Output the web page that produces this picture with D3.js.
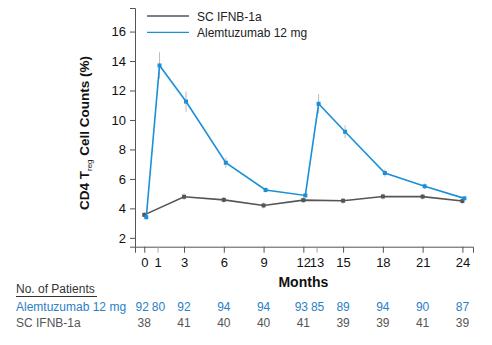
<!DOCTYPE html>
<html>
<head>
<meta charset="utf-8">
<script src="https://cdnjs.cloudflare.com/ajax/libs/d3/7.8.5/d3.min.js"></script>
<style>
  body { margin: 0; background: #fff; }
  text { font-family: Arial, "Liberation Sans", sans-serif; }
</style>
</head>
<body>
<div id="chart"></div>
<script>
// months and values
var months = [0, 1, 3, 6, 9, 12, 13, 15, 18, 21, 24];
var alemMonths = [0, 1, 3, 6, 9, 12, 13, 15, 18, 21, 24];
var alemValues = [3.4, 13.7, 11.25, 7.1, 5.25, 4.88, 11.1, 9.2, 6.4, 5.5, 4.68];
var alemErr = [0.15, 0.9, 0.68, 0.35, 0.18, 0.15, 0.66, 0.43, 0.25, 0.2, 0.15];
var ifnMonths = [0, 3, 6, 9, 12, 15, 18, 21, 24];
var ifnValues = [3.56, 4.79, 4.58, 4.2, 4.56, 4.52, 4.81, 4.8, 4.5];
var ifnErr = [0.2, 0.22, 0.2, 0.2, 0.2, 0.2, 0.2, 0.2, 0.2];
var alemN = [92, 80, 92, 94, 94, 93, 85, 89, 94, 90, 87];
var ifnN = [38, 41, 40, 40, 41, 39, 39, 41, 39];
var yTicks = [2, 4, 6, 8, 10, 12, 14, 16];

var W = 492, H = 345;
var blue = "#1b8fd8", gray = "#555", blueText = "#2a80c6";
var font = "Arial, 'Liberation Sans', sans-serif";

var svg = d3.select("#chart").append("svg").attr("width", W).attr("height", H);

var x = d3.scaleLinear().domain([-0.7, 24.8]).range([135, 473]);
var y = d3.scaleLinear().domain([1.4, 17.6]).range([246.7, 8]);

// axes
var xAxis = d3.axisBottom(x).tickValues(months).tickSizeOuter(0).tickSize(6).tickPadding(5);
var gx = svg.append("g").attr("transform", "translate(0," + y.range()[0] + ")").call(xAxis);
gx.select(".domain").attr("stroke", gray);
gx.selectAll(".tick line").attr("stroke", function (d) { return (d == 1 || d == 13) ? "#aaa" : gray; });
gx.selectAll(".tick text").attr("font-size", 13).attr("fill", "#111").attr("font-family", font);

var yAxis = d3.axisLeft(y).tickValues(yTicks).tickSizeOuter(0).tickSize(5).tickPadding(4);
var gy = svg.append("g").attr("transform", "translate(" + x.range()[0] + ",0)").call(yAxis);
gy.select(".domain").attr("stroke", gray);
gy.selectAll(".tick line").attr("stroke", gray);
gy.selectAll(".tick text").attr("font-size", 13).attr("fill", "#111").attr("font-family", font);

// y label
var yl = svg.append("text").attr("transform", "translate(88.5,133) rotate(-90)")
    .attr("text-anchor", "middle").attr("font-size", 13.5).attr("font-weight", "bold").attr("fill", "#111");
yl.append("tspan").text("CD4 T");
yl.append("tspan").attr("font-size", 8).attr("font-weight", "normal").attr("dy", 3).text("reg");
yl.append("tspan").attr("dy", -3).text(" Cell Counts (%)");

svg.append("text").attr("x", x(12)).attr("y", 287).attr("text-anchor", "middle")
    .attr("font-size", 14).attr("font-weight", "bold").attr("fill", "#111").text("Months");

function series(ms, vals, errs, color, dx) {
    var pts = ms.map(function (m, i) { return { m: m, v: vals[i], e: errs[i] }; });
    var g = svg.append("g");
    g.selectAll("line.err").data(pts).enter().append("line")
        .attr("x1", function (d) { return x(d.m) + dx; })
        .attr("x2", function (d) { return x(d.m) + dx; })
        .attr("y1", function (d) { return y(d.v - d.e); })
        .attr("y2", function (d) { return y(d.v + d.e); })
        .attr("stroke", "#bbb").attr("stroke-width", 1);
    var line = d3.line().x(function (d) { return x(d.m) + dx; }).y(function (d) { return y(d.v); });
    g.append("path").datum(pts).attr("d", line).attr("fill", "none")
        .attr("stroke", color).attr("stroke-width", 1.6);
    g.selectAll("rect").data(pts).enter().append("rect")
        .attr("x", function (d) { return x(d.m) + dx - 2; })
        .attr("y", function (d) { return y(d.v) - 2; })
        .attr("width", 4).attr("height", 4).attr("fill", color);
}
series(ifnMonths, ifnValues, ifnErr, gray, 0);
series(alemMonths, alemValues, alemErr, blue, 2);

// legend
var legend = [["SC IFNB-1a", gray], ["Alemtuzumab 12 mg", blue]];
legend.forEach(function (l, i) {
    var ly = 16 + i * 16.3;
    svg.append("line").attr("x1", 147).attr("x2", 189).attr("y1", ly).attr("y2", ly)
        .attr("stroke", l[1]).attr("stroke-width", 1.3);
    svg.append("text").attr("x", 197).attr("y", ly + 4.5).attr("font-size", 12)
        .attr("fill", "#222").text(l[0]);
});

// patients table
// nudge the crowded neighbours (0/1 and 12/13) apart like the original
function nudge(m) { return (m == 0 || m == 12) ? -2 : (m == 1 || m == 13) ? 1 : 0; }
svg.append("text").attr("x", 16).attr("y", 293).attr("font-size", 12).attr("fill", "#333")
    .text("No. of Patients");
svg.append("line").attr("x1", 16).attr("x2", 97).attr("y1", 296.5).attr("y2", 296.5)
    .attr("stroke", "#333").attr("stroke-width", 1);
svg.append("text").attr("x", 16).attr("y", 311).attr("font-size", 12).attr("fill", blueText)
    .text("Alemtuzumab 12 mg");
svg.append("text").attr("x", 16).attr("y", 327).attr("font-size", 12).attr("fill", "#555")
    .text("SC IFNB-1a");
svg.selectAll("text.na").data(alemMonths).enter().append("text").attr("class", "na")
    .attr("x", function (d) { return x(d) + nudge(d); }).attr("y", 311).attr("text-anchor", "middle")
    .attr("font-size", 12).attr("fill", blueText)
    .text(function (d, i) { return alemN[i]; });
svg.selectAll("text.ni").data(ifnMonths).enter().append("text").attr("class", "ni")
    .attr("x", function (d) { return x(d); }).attr("y", 327).attr("text-anchor", "middle")
    .attr("font-size", 12).attr("fill", "#555")
    .text(function (d, i) { return ifnN[i]; });
</script>
</body>
</html>
